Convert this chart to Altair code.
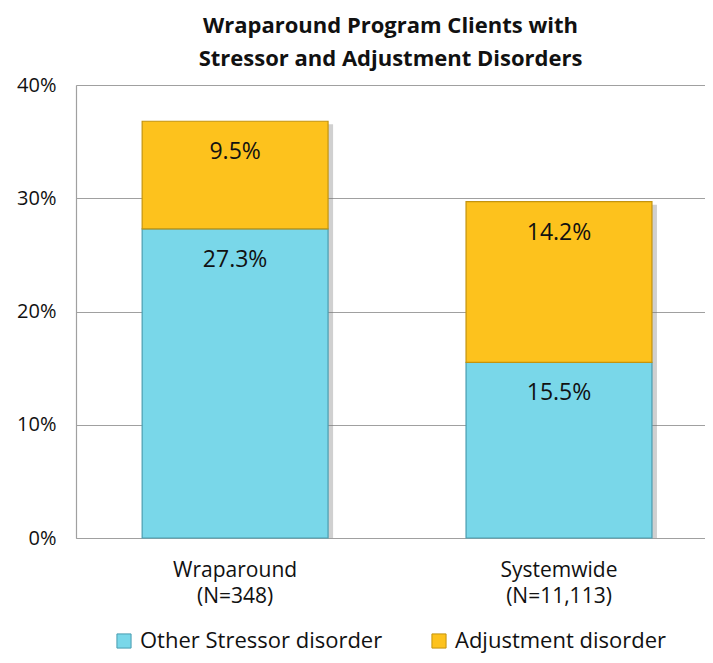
import altair as alt
import pandas as pd

groups = ["Wraparound\n(N=348)", "Systemwide\n(N=11,113)"]
series = ["Other Stressor disorder", "Adjustment disorder"]
other_stressor = [27.3, 15.5]
adjustment = [9.5, 14.2]
colors = ["#79D7E9", "#FDC21D"]
strokes = ["#4A9DB0", "#C4940E"]

rows = []
for i, g in enumerate(groups):
    base = 0.0
    for k, (s, vals) in enumerate(zip(series, [other_stressor, adjustment])):
        v = vals[i]
        rows.append({"group": g, "series": s, "value": v, "start": base,
                     "end": base + v, "order": k, "label": f"{v:.1f}%"})
        base += v
df = pd.DataFrame(rows)
totals = df.groupby("group", sort=False)["end"].max().reset_index()

FONT = "Open Sans"

x = alt.X("group:N", sort=groups, title=None,
          scale=alt.Scale(paddingInner=0.426, paddingOuter=0.184, align=0.555),
          axis=alt.Axis(labelExpr="split(datum.label, '\\n')", labelAngle=0,
                        labelFontSize=21, labelLineHeight=26, labelPadding=21,
                        labelColor="#111", labelFont=FONT, ticks=False,
                        domainColor="#a0a0a0", domainWidth=1.2))
y_scale = alt.Scale(domain=[0, 40], nice=False)

shadow = alt.Chart(totals).mark_bar(color="#777", opacity=0.35, xOffset=5, yOffset=3).encode(
    x=x, y=alt.Y("end:Q", scale=y_scale), y2=alt.datum(0))

bars = alt.Chart(df).mark_bar(strokeWidth=1.2).encode(
    x=x,
    y=alt.Y("start:Q", scale=y_scale, title=None,
            axis=alt.Axis(values=[0, 10, 20, 30, 40], labelExpr="datum.value + '%'",
                          labelFontSize=20, labelColor="#111", labelFont=FONT,
                          labelPadding=20, ticks=False, grid=True, gridColor="#a0a0a0",
                          gridWidth=1.2, domainColor="#a0a0a0", domainWidth=1.2)),
    y2="end:Q",
    color=alt.Color("series:N", sort=series,
                    scale=alt.Scale(domain=series, range=colors),
                    legend=alt.Legend(title=None, orient="none", legendX=37, legendY=545,
                                      direction="horizontal", columns=2, columnPadding=45,
                                      symbolType="square", symbolSize=200,
                                      symbolStrokeWidth=1, labelFontSize=22, labelLimit=400,
                                      labelFont=FONT, labelColor="#111", labelOffset=5)),
    stroke=alt.Stroke("series:N", scale=alt.Scale(domain=series, range=strokes), legend=None),
    order=alt.Order("order:Q"),
)

labels = alt.Chart(df).mark_text(fontSize=23, font=FONT, color="#111", baseline="middle", dy=31).encode(
    x=x, y=alt.Y("end:Q", scale=y_scale), text="label:N")

chart = alt.layer(shadow, bars, labels).properties(
    width=629, height=453,
    autosize=alt.AutoSizeParams(type="none"),
    padding={"left": 68, "top": 77, "right": 0, "bottom": 117},
    title=alt.Title(["Wraparound Program Clients with", "Stressor and Adjustment Disorders"],
                    fontSize=22, font=FONT, fontWeight="bold", color="#111",
                    anchor="middle", offset=4, lineHeight=33),
).configure_view(stroke=None).configure(background="white")

chart.save("out.html", embed_options={"renderer": "svg", "actions": False})
